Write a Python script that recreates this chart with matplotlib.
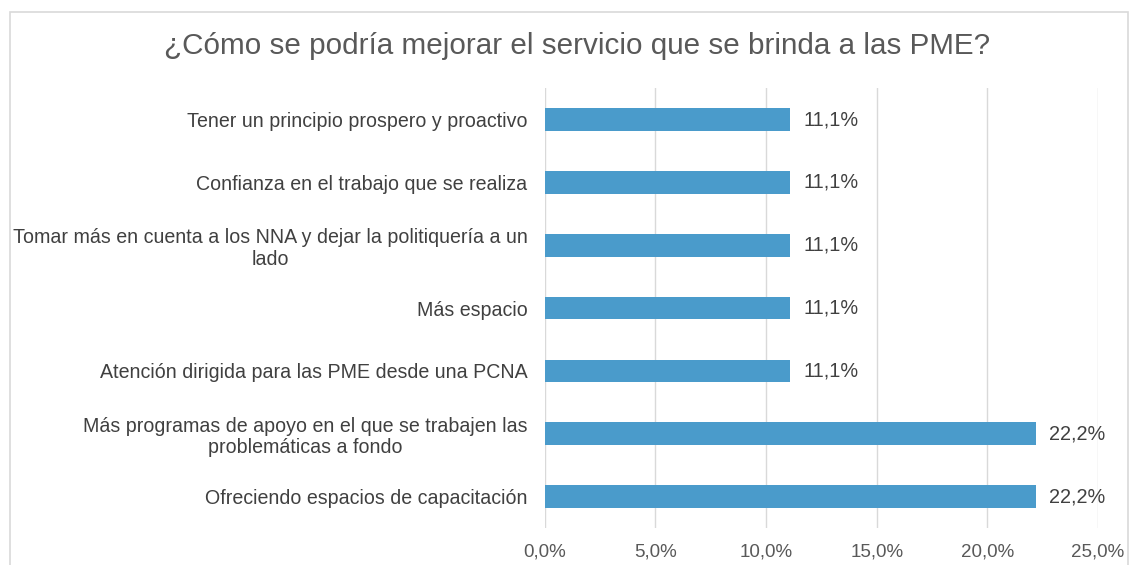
import matplotlib.pyplot as plt
from matplotlib.patches import Rectangle

# Datos del gráfico (de arriba hacia abajo)
categorias = [
    "Tener un principio prospero y proactivo",
    "Confianza en el trabajo que se realiza",
    "Tomar más en cuenta a los NNA y dejar la politiquería a un\nlado",
    "Más espacio",
    "Atención dirigida para las PME desde una PCNA",
    "Más programas de apoyo en el que se trabajen las\nproblemáticas a fondo",
    "Ofreciendo espacios de capacitación",
]
valores = [11.1, 11.1, 11.1, 11.1, 11.1, 22.2, 22.2]
ticks_x = [0, 5, 10, 15, 20, 25]

plt.rcParams['font.family'] = ['Liberation Sans', 'DejaVu Sans']

fig = plt.figure(figsize=(11.35, 5.65), dpi=100)
ax = fig.add_axes([0.480, 0.0655, 0.4874, 0.7785])

# Marco exterior del gráfico
fig.patches.append(Rectangle((10 / 1135, -0.05), 1118 / 1135, 1.05 - 12 / 565,
                             transform=fig.transFigure, fill=False,
                             edgecolor='#d9d9d9', linewidth=1.2))

pos = list(range(len(categorias)))
ax.barh(pos, valores, height=0.36, color='#4a9bcb', zorder=3)
ax.set_ylim(len(categorias) - 0.5, -0.5)
ax.set_xlim(0, 25)

for p, v in zip(pos, valores):
    ax.text(v + 0.58, p, f"{v:.1f}%".replace('.', ','), va='center', ha='left',
            fontsize=14.3, color='#404040')

ax.set_yticks(pos)
ax.set_yticklabels(categorias, fontsize=14.1, color='#404040')
for lbl in ax.get_yticklabels():
    lbl.set_multialignment('center')
    lbl.set_linespacing(1.18)
ax.set_xticks(ticks_x)
ax.set_xticklabels([f"{t:.1f}%".replace('.', ',') for t in ticks_x],
                   fontsize=13.5, color='#595959')
ax.tick_params(axis='both', length=0)
ax.tick_params(axis='y', pad=12.5)
ax.tick_params(axis='x', pad=11)

ax.grid(axis='x', color='#d9d9d9', linewidth=1, zorder=0)
for s in ax.spines.values():
    s.set_visible(False)

fig.text(0.508, 0.918, "¿Cómo se podría mejorar el servicio que se brinda a las PME?",
         ha='center', va='center', fontsize=21.3, color='#595959')

fig.savefig('out.png', dpi=100)
